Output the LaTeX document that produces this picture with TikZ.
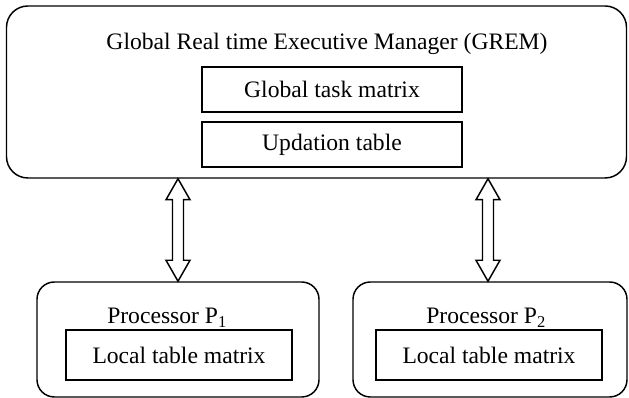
\documentclass[tikz,border=0pt]{standalone}
\usepackage{fontspec}
\setmainfont{Liberation Serif}
\usetikzlibrary{calc}
\begin{document}
\begin{tikzpicture}[x=0.75pt,y=-0.75pt,
  every node/.style={font=\fontsize{17.7}{20}\selectfont, inner sep=0pt},
  outerbox/.style={draw, line width=1.1pt, rounded corners=15pt},
  innerbox/.style={draw, line width=1.1pt},
  blockarrow/.style={draw, line width=1.1pt, fill=white, line join=miter}]
\useasboundingbox (0,0) rectangle (629,398);
% GREM
\node[outerbox, rounded corners=16pt, minimum width=465pt, minimum height=129pt] (grem) at (316.5,92) {};
\node[anchor=base] (title) at (327,50) {Global Real time Executive Manager (GREM)};
\node[innerbox, minimum width=195pt, minimum height=33.75pt] (gtm) at (332,89.5) {Global task matrix};
\node[innerbox, minimum width=195pt, minimum height=33.75pt] (upd) at (332,144.5) {Updation table};
% processors
\node[outerbox, rounded corners=13pt, minimum width=211.5pt, minimum height=86.25pt] (p1) at (178,339.5) {};
\node[outerbox, rounded corners=13pt, minimum width=205.5pt, minimum height=86.25pt] (p2) at (490,339.5) {};
\node[anchor=base west] (p1lab) at (107,324) {Processor P\textsubscript{1}};
\node[anchor=base west] (p2lab) at (426,324) {Processor P\textsubscript{2}};
\node[innerbox, minimum width=169.5pt, minimum height=37.5pt] (l1) at (179,355) {Local table matrix};
\node[innerbox, minimum width=169.5pt, minimum height=37.5pt] (l2) at (489,355) {Local table matrix};
% double arrows
\coordinate (a1t) at (grem.south -| 178,0);
\coordinate (a1b) at (p1.north -| 178,0);
\coordinate (a2t) at (grem.south -| 488,0);
\coordinate (a2b) at (p2.north -| 488,0);
\foreach \t/\b in {a1t/a1b, a2t/a2b}{
  \draw[blockarrow] (\t) -- ($(\t)+(12,21)$) -- ($(\t)+(5.5,21)$) -- ($(\b)+(5.5,-21)$)
    -- ($(\b)+(12,-21)$) -- (\b) -- ($(\b)+(-12,-21)$) -- ($(\b)+(-5.5,-21)$)
    -- ($(\t)+(-5.5,21)$) -- ($(\t)+(-12,21)$) -- cycle;
}
\end{tikzpicture}
\end{document}
